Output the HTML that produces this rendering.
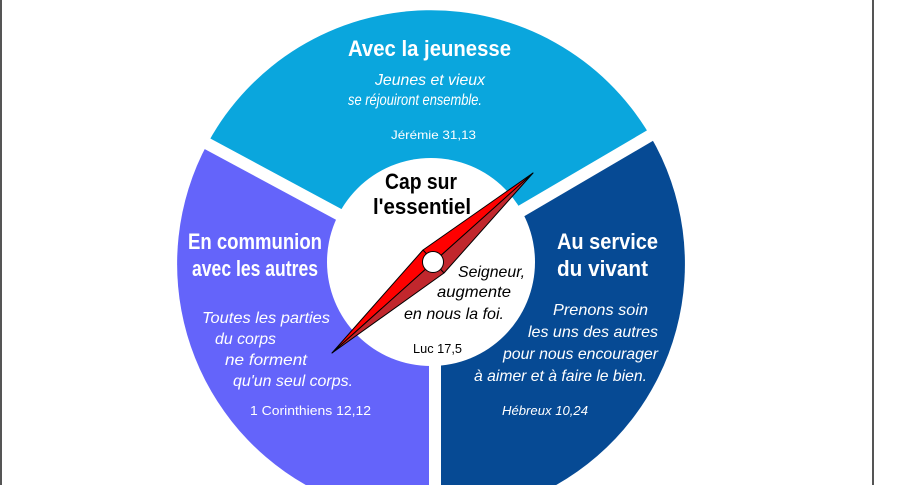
<!DOCTYPE html>
<html><head><meta charset="utf-8"><style>
html,body{margin:0;padding:0;background:#fff;width:907px;height:485px;overflow:hidden;}
svg{display:block;}
text{font-family:"Liberation Sans",sans-serif;}
</style></head><body>
<svg width="907" height="485" viewBox="0 0 907 485" xmlns="http://www.w3.org/2000/svg">
<rect x="0" y="0" width="907" height="485" fill="#fff"/>
<rect x="0" y="0" width="2" height="485" fill="#555"/>
<rect x="872" y="0" width="2" height="485" fill="#555"/>
<path d="M431,264 L207.5,143.6 A254,254 0 0 1 650,135.5 Z" fill="#0AA6DD"/>
<path d="M431,264 L650,135.5 A254,254 0 0 1 556.2,485 L435,485 Z" fill="#064A94"/>
<path d="M431,264 L435,485 L305.8,485 A254,254 0 0 1 207.5,143.6 Z" fill="#6464FA"/>
<line x1="431" y1="264" x2="180" y2="129" stroke="#fff" stroke-width="12"/>
<line x1="431" y1="264" x2="680" y2="118" stroke="#fff" stroke-width="12"/>
<line x1="435" y1="264" x2="435" y2="485" stroke="#fff" stroke-width="12"/>
<circle cx="431" cy="262" r="104" fill="#fff"/>

<g fill="#fff">
<text x="348" y="56" font-size="22" font-weight="bold" textLength="163" lengthAdjust="spacingAndGlyphs">Avec la jeunesse</text>
<text x="375" y="85" font-size="16" font-style="italic" textLength="110" lengthAdjust="spacingAndGlyphs">Jeunes et vieux</text>
<text x="348" y="105" font-size="16" font-style="italic" textLength="134" lengthAdjust="spacingAndGlyphs">se réjouiront ensemble.</text>
<text x="391" y="139" font-size="12" textLength="85" lengthAdjust="spacingAndGlyphs">Jérémie 31,13</text>

<text x="188" y="249" font-size="22" font-weight="bold" textLength="134" lengthAdjust="spacingAndGlyphs">En communion</text>
<text x="192" y="276" font-size="22" font-weight="bold" textLength="126" lengthAdjust="spacingAndGlyphs">avec les autres</text>
<text x="202" y="323" font-size="16" font-style="italic" textLength="128" lengthAdjust="spacingAndGlyphs">Toutes les parties</text>
<text x="215" y="344" font-size="16" font-style="italic" textLength="61" lengthAdjust="spacingAndGlyphs">du corps</text>
<text x="225" y="365" font-size="16" font-style="italic" textLength="82" lengthAdjust="spacingAndGlyphs">ne forment</text>
<text x="233" y="386" font-size="16" font-style="italic" textLength="120" lengthAdjust="spacingAndGlyphs">qu'un seul corps.</text>
<text x="250" y="415" font-size="13" textLength="121" lengthAdjust="spacingAndGlyphs">1 Corinthiens 12,12</text>

<text x="557" y="249" font-size="22" font-weight="bold" textLength="101" lengthAdjust="spacingAndGlyphs">Au service</text>
<text x="557" y="276" font-size="22" font-weight="bold" textLength="91" lengthAdjust="spacingAndGlyphs">du vivant</text>
<text x="553" y="315" font-size="16" font-style="italic" textLength="95" lengthAdjust="spacingAndGlyphs">Prenons soin</text>
<text x="528" y="337" font-size="16" font-style="italic" textLength="130" lengthAdjust="spacingAndGlyphs">les uns des autres</text>
<text x="503" y="359" font-size="16" font-style="italic" textLength="155" lengthAdjust="spacingAndGlyphs">pour nous encourager</text>
<text x="474" y="381" font-size="16" font-style="italic" textLength="173" lengthAdjust="spacingAndGlyphs">à aimer et à faire le bien.</text>
<text x="502" y="415" font-size="13" font-style="italic" textLength="86" lengthAdjust="spacingAndGlyphs">Hébreux 10,24</text>
</g>

<g fill="#000">
<text x="385" y="189" font-size="22" font-weight="bold" textLength="72" lengthAdjust="spacingAndGlyphs">Cap sur</text>
<text x="373" y="214" font-size="22" font-weight="bold" textLength="98" lengthAdjust="spacingAndGlyphs">l'essentiel</text>
<text x="458" y="277" font-size="16" font-style="italic" textLength="67" lengthAdjust="spacingAndGlyphs">Seigneur,</text>
<text x="437" y="297" font-size="16" font-style="italic" textLength="74" lengthAdjust="spacingAndGlyphs">augmente</text>
<text x="404" y="319" font-size="16" font-style="italic" textLength="100" lengthAdjust="spacingAndGlyphs">en nous la foi.</text>
<text x="413" y="353" font-size="13" textLength="49" lengthAdjust="spacingAndGlyphs">Luc 17,5</text>
</g>

<g stroke="#000" stroke-width="1" stroke-linejoin="round">
<path d="M533,173 L423,250 L332,353 Z" fill="#FF0000"/>
<path d="M533,173 L444,273 L332,353 Z" fill="#C1272D"/>
<line x1="423" y1="250" x2="444" y2="273"/>
<circle cx="433" cy="262" r="10.5" fill="#fff"/>
</g>
</svg>
</body></html>
